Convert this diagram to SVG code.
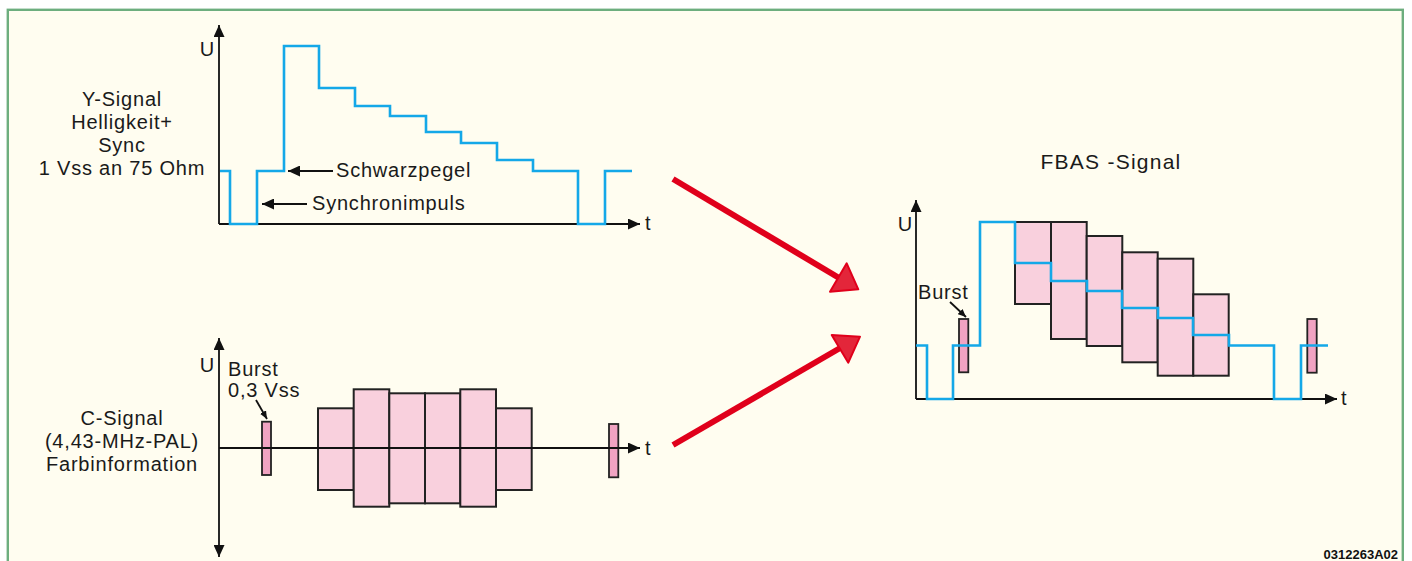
<svg xmlns="http://www.w3.org/2000/svg" width="1412" height="561" viewBox="0 0 1412 561">
  <defs>
    <marker id="axisHead" markerUnits="userSpaceOnUse" markerWidth="12" markerHeight="11" refX="12" refY="5.5" orient="auto-start-reverse">
      <path d="M0,0 L12,5.5 L0,11 z" fill="#111"/>
    </marker>
    <marker id="smallHead" markerUnits="userSpaceOnUse" markerWidth="8" markerHeight="7" refX="8" refY="3.5" orient="auto">
      <path d="M0,0 L8,3.5 L0,7 z" fill="#111"/>
    </marker>
    <style>
      .lbl { font-family: "Liberation Sans", Arial, sans-serif; font-size: 20px; letter-spacing: 0.8px; fill: #1a1a1a; }
      .mid { text-anchor: middle; }
      .end { text-anchor: end; }
      .axis { stroke: #111; stroke-width: 1.8; fill: none; }
      .sig { stroke: #14a8e8; stroke-width: 2.6; fill: none; stroke-linejoin: miter; }
      .blk { fill: #f9d0dd; stroke: #222; stroke-width: 2; }
      .bst { fill: #f0a3c2; stroke: #222; stroke-width: 1.8; }
      .ptr { stroke: #111; stroke-width: 1.8; fill: none; }
      .red { stroke: #e0001b; stroke-width: 6; fill: none; }
      .redHead { fill: #e3263a; stroke: #e0001b; stroke-width: 2; stroke-linejoin: round; }
    </style>
  </defs>

  <!-- page and frame -->
  <rect x="0" y="0" width="1412" height="561" fill="#ffffff"/>
  <rect x="7.8" y="9.8" width="1395" height="560" fill="#fffdf0" stroke="#6dae7e" stroke-width="2.4"/>

  <!-- Y signal (luminance + sync) -->
  <g id="y-signal">
    <text class="lbl mid" x="122" y="106">Y-Signal</text>
    <text class="lbl mid" x="122" y="129">Helligkeit+</text>
    <text class="lbl mid" x="122" y="152">Sync</text>
    <text class="lbl mid" x="122" y="175">1 Vss an 75 Ohm</text>
    <text class="lbl end" x="215" y="56">U</text>
    <text class="lbl" x="645" y="230">t</text>
    <line class="axis" x1="219" y1="224" x2="219" y2="25" marker-end="url(#axisHead)"/>
    <line class="axis" x1="219" y1="224" x2="640" y2="224" marker-end="url(#axisHead)"/>
    <polyline class="sig" points="220,171 230,171 230,224 257,224 257,171 284,171 284,46 319,46 319,88 355,88 355,106 390,106 390,116 426,116 426,132 461,132 461,143 497,143 497,160 533,160 533,171 578,171 578,224 605,224 605,171 632,171"/>
    <line class="ptr" x1="333" y1="171" x2="288" y2="171" marker-end="url(#axisHead)"/>
    <text class="lbl" x="336" y="177">Schwarzpegel</text>
    <line class="ptr" x1="307" y1="204" x2="262" y2="204" marker-end="url(#axisHead)"/>
    <text class="lbl" x="312" y="210">Synchronimpuls</text>
  </g>

  <!-- C signal (chroma) -->
  <g id="c-signal">
    <text class="lbl mid" x="122" y="425">C-Signal</text>
    <text class="lbl mid" x="122" y="448">(4,43-MHz-PAL)</text>
    <text class="lbl mid" x="122" y="471">Farbinformation</text>
    <text class="lbl end" x="215" y="372">U</text>
    <text class="lbl" x="645" y="455">t</text>
    <text class="lbl" x="228" y="376">Burst</text>
    <text class="lbl" x="228" y="397">0,3 Vss</text>
    <rect class="blk" x="318" y="408.3" width="35.7" height="81.7"/>
    <rect class="blk" x="353.7" y="389.3" width="35.6" height="117.4"/>
    <rect class="blk" x="389.3" y="393.3" width="35.7" height="110"/>
    <rect class="blk" x="425" y="393.3" width="35.3" height="110"/>
    <rect class="blk" x="460.3" y="389.3" width="35.7" height="117.4"/>
    <rect class="blk" x="496" y="408.3" width="35.7" height="81.7"/>
    <rect class="bst" x="262" y="421.7" width="9" height="53.3"/>
    <rect class="bst" x="609" y="424" width="9.3" height="53.3"/>
    <line class="axis" x1="219" y1="338" x2="219" y2="557" marker-start="url(#axisHead)" marker-end="url(#axisHead)"/>
    <line class="axis" x1="219" y1="448" x2="640" y2="448" marker-end="url(#axisHead)"/>
    <line class="ptr" x1="256" y1="400" x2="267" y2="419" marker-end="url(#smallHead)"/>
  </g>

  <!-- composite FBAS signal -->
  <g id="fbas-signal">
    <text class="lbl mid" x="1111" y="169" style="font-size:21px;letter-spacing:1.25px">FBAS -Signal</text>
    <text class="lbl end" x="913" y="231">U</text>
    <text class="lbl" x="1341" y="405">t</text>
    <text class="lbl" x="918" y="299">Burst</text>
    <rect class="blk" x="1015" y="222" width="36" height="82"/>
    <rect class="blk" x="1051" y="222" width="35.7" height="117"/>
    <rect class="blk" x="1086.7" y="236" width="35.6" height="110"/>
    <rect class="blk" x="1122.3" y="252.3" width="35.4" height="110"/>
    <rect class="blk" x="1157.7" y="258.7" width="35.6" height="117"/>
    <rect class="blk" x="1193.3" y="294.3" width="35.4" height="81.4"/>
    <rect class="bst" x="959" y="319" width="9.3" height="53.3"/>
    <rect class="bst" x="1307.3" y="319" width="9.4" height="53.7"/>
    <line class="axis" x1="916" y1="399" x2="916" y2="200" marker-end="url(#axisHead)"/>
    <line class="axis" x1="916" y1="399" x2="1337" y2="399" marker-end="url(#axisHead)"/>
    <polyline class="sig" points="916,345.5 927,345.5 927,399 953,399 953,345.5 980,345.5 980,222 1015,222 1015,263 1051,263 1051,281 1087,281 1087,291 1122,291 1122,308 1158,308 1158,318 1193,318 1193,335 1229,335 1229,345.5 1274,345.5 1274,399 1301,399 1301,345.5 1328,345.5"/>
    <line class="ptr" x1="950" y1="302" x2="966" y2="317" marker-end="url(#smallHead)"/>
  </g>

  <!-- red combining arrows -->
  <g id="connectors">
    <line class="red" x1="673" y1="179" x2="840" y2="278.5"/>
    <polygon class="redHead" points="846.7,263.3 858.3,289.3 830,291.7"/>
    <line class="red" x1="673" y1="445" x2="841" y2="347.5"/>
    <polygon class="redHead" points="831.7,335 860,336.7 848.3,362.7"/>
  </g>

  <!-- drawing number -->
  <text x="1398" y="559" text-anchor="end" style="font-family:'Liberation Sans', Arial, sans-serif; font-size:13px; font-weight:bold; fill:#111">0312263A02</text>
</svg>
